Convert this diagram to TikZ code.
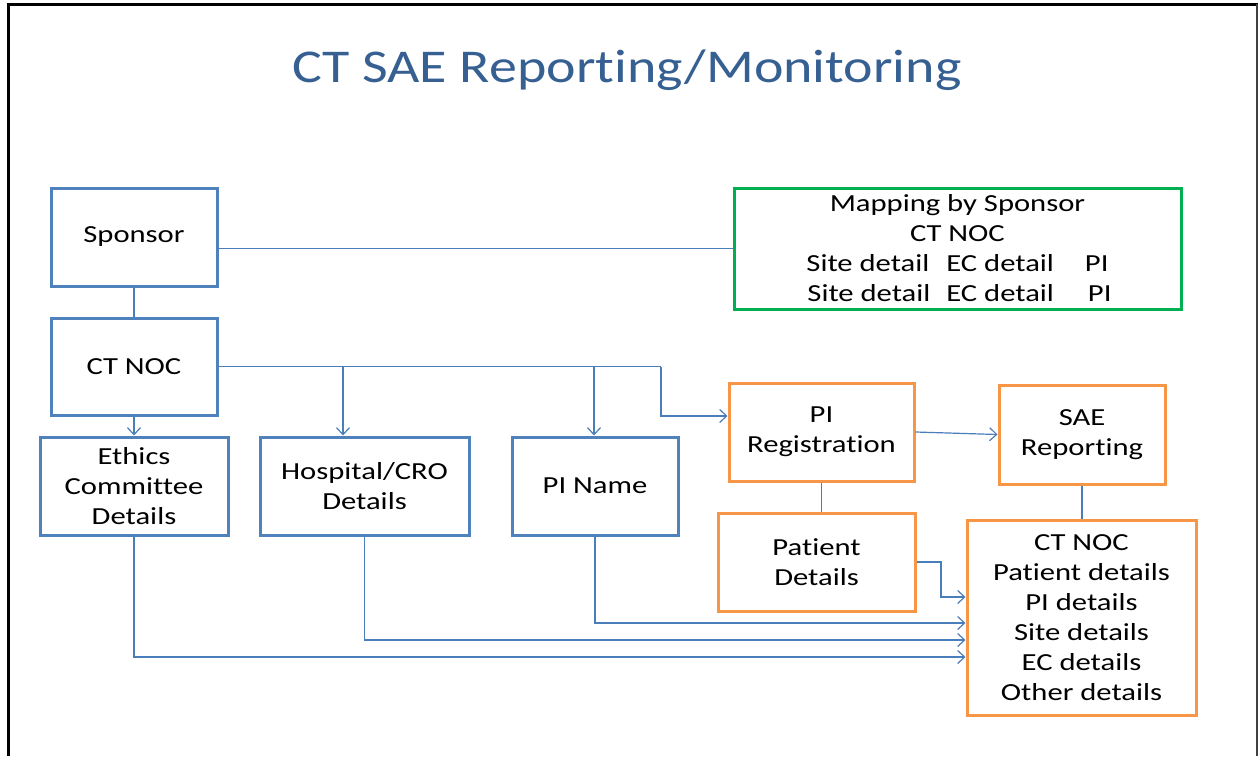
\documentclass[tikz,border=0pt]{standalone}
\usepackage{fontspec}
\setmainfont[FakeStretch=1.25, Ligatures=NoCommon]{Carlito}
\newfontfamily\titlefont[FakeStretch=1.19, Ligatures=NoCommon]{Carlito}
\usetikzlibrary{arrows.meta,calc}

\definecolor{boxblue}{RGB}{79,129,189}
\definecolor{linkblue}{RGB}{74,126,187}
\definecolor{boxgreen}{RGB}{0,176,80}
\definecolor{boxorange}{RGB}{247,150,70}
\definecolor{titleblue}{RGB}{55,96,146}

\tikzset{
  stepbox/.style={draw, line width=3pt, rectangle, align=center, inner sep=0pt,
    font=\fontsize{24.5}{30}\selectfont, text=black},
  bluebox/.style={stepbox, draw=boxblue},
  orangebox/.style={stepbox, draw=boxorange},
  greenbox/.style={stepbox, draw=boxgreen},
  link/.style={draw=linkblue, line width=1.2pt},
  arrowlink/.style={link, -{Straight Barb[length=7pt,width=13pt,line width=1.2pt]}},
}

\begin{document}
\begin{tikzpicture}[x=1pt, y=-1pt]
  \useasboundingbox (0,0) rectangle (1259,756);
  \fill[white] (0,0) rectangle (1259,756);

  % slide frame
  \draw[line width=3pt, black] (8,756) -- (8,4) -- (1258,4);
  \draw[line width=1.5pt, black!75] (1257,4) -- (1257,756);

  % title
  \node[anchor=base, text=titleblue, font=\titlefont\fontsize{47}{56}\selectfont]
    (title) at (627,82) {CT SAE Reporting/Monitoring};

  % boxes
  \node[bluebox, minimum width=166pt, minimum height=98pt] (sponsor) at (134,237) {Sponsor};
  \node[bluebox, minimum width=166pt, minimum height=97pt] (ctnoc) at (134,366.5) {CT NOC};
  \node[bluebox, minimum width=188pt, minimum height=98pt] (ethics) at (134,486) {Ethics\\Committee\\Details};
  \node[bluebox, minimum width=209pt, minimum height=98pt] (hospital) at (364.5,486) {Hospital/CRO\\Details};
  \node[bluebox, minimum width=166pt, minimum height=98pt] (piname) at (595,486) {PI Name};

  \node[greenbox, minimum width=447pt, minimum height=121pt] (mapping) at (957.5,248.5)
    {Mapping by Sponsor\\CT NOC\\
     Site detail\hspace{17pt}EC detail\hspace{31pt}PI\\
     \hspace{4pt}Site detail\hspace{16pt}EC detail\hspace{34pt}PI};

  \node[orangebox, minimum width=185pt, minimum height=98pt] (pireg) at (821.5,432) {PI\\Registration};
  \node[orangebox, minimum width=166pt, minimum height=99pt] (sae) at (1082,434.5) {SAE\\Reporting};
  \node[orangebox, minimum width=197pt, minimum height=98pt] (patient) at (816.5,562) {Patient\\Details};
  \node[orangebox, minimum width=229pt, minimum height=195pt] (details) at (1081.5,617.5)
    {CT NOC\\Patient details\\PI details\\Site details\\EC details\\Other details};

  % branch points on the CT NOC line
  \coordinate (jhosp) at (343,366.5);
  \coordinate (jpi) at (594,366.5);
  \coordinate (jreg) at (661,416);
  \coordinate (jpat) at (941,597);

  % plain links
  \draw[link] (sponsor.east |- mapping.west) -- (mapping.west);
  \draw[link] (sponsor.south) -- (ctnoc.north);
  \draw[link] (pireg.south) -- (pireg.south |- patient.north);
  \draw[link] (sae.south) -- (sae.south |- details.north);

  % arrows from CT NOC
  \draw[arrowlink] (ctnoc.south) -- (ethics.north);
  \draw[link] (ctnoc.east) -- (jreg |- ctnoc.east);
  \draw[arrowlink] (jhosp) -- (jhosp |- hospital.north);
  \draw[arrowlink] (jpi) -- (jpi |- piname.north);
  \draw[arrowlink] (jreg |- ctnoc.east) -- (jreg) -- (jreg -| pireg.west);

  % registration to reporting
  \draw[arrowlink] (pireg.east) -- (sae.west);

  % feeds into the report details
  \draw[arrowlink] (patient.east) -| (jpat) -- (jpat -| details.west);
  \draw[arrowlink] (piname.south) |- ([yshift=-5.5pt]details.west);
  \draw[arrowlink] (hospital.south) |- ([yshift=-22.5pt]details.west);
  \draw[arrowlink] (ethics.south) |- ([yshift=-39.5pt]details.west);
\end{tikzpicture}
\end{document}
